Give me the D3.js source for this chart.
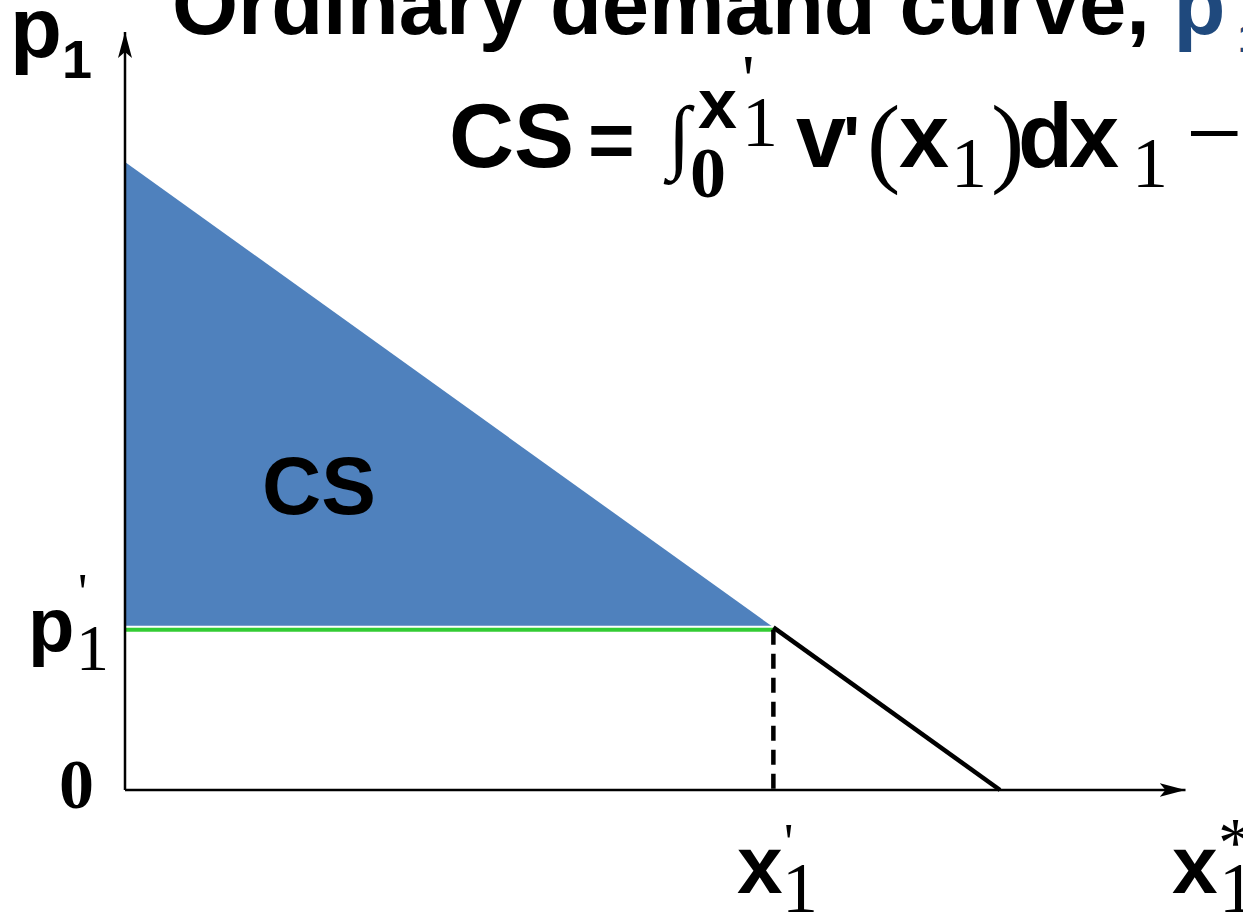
<!DOCTYPE html>
<html>
<head>
<meta charset="utf-8">
<script src="https://cdn.jsdelivr.net/npm/d3@7"></script>
<style>
  body { margin: 0; background: #fff; }
  svg { display: block; }
  .sans { font-family: "Liberation Sans", Arial, sans-serif; font-weight: bold; }
  .serif { font-family: "Liberation Serif", "Times New Roman", serif; }
</style>
</head>
<body>
<svg id="chart" width="1243" height="915"></svg>
<script>
// demand curve p1 = f(x1), in arbitrary units
const demandX = [0, 10];
const demandP = [10, 0];
const xPrime = 7.41;   // chosen quantity x1'
const pPrime = 2.55;   // price p1'
const axisMax = { x: 12.12, p: 12.07 };

const svg = d3.select("#chart"),
    width = +svg.attr("width"),
    height = +svg.attr("height");

const x = d3.scaleLinear().domain([0, 10]).range([125, 1000]);
const y = d3.scaleLinear().domain([0, 10]).range([790, 162]);

const demandAt = d3.scaleLinear().domain(demandX).range(demandP);

// arrow head
svg.append("defs").append("marker")
    .attr("id", "arrow")
    .attr("viewBox", "-26 -8 28 16")
    .attr("refX", 0).attr("refY", 0)
    .attr("markerUnits", "userSpaceOnUse")
    .attr("markerWidth", 28).attr("markerHeight", 16)
    .attr("orient", "auto")
    .append("path")
    .attr("d", "M0,0 L-26,-7 L-20,0 L-26,7 Z")
    .attr("fill", "#000");

// consumer surplus area
const csArea = [
    [0, demandAt(0)],
    [xPrime, demandAt(xPrime)],
    [0, demandAt(xPrime)]
];
svg.append("path")
    .datum(csArea)
    .attr("d", d3.line().x(d => x(d[0])).y(d => y(d[1])).curve(d3.curveLinearClosed))
    .attr("fill", "#4F81BD");

// price line p1'
svg.append("line")
    .attr("x1", x(0)).attr("x2", x(xPrime))
    .attr("y1", y(pPrime)).attr("y2", y(pPrime))
    .attr("stroke", "#fff").attr("stroke-width", 8);
svg.append("line")
    .attr("x1", x(0)).attr("x2", x(xPrime))
    .attr("y1", y(pPrime)).attr("y2", y(pPrime))
    .attr("stroke", "#33CC33").attr("stroke-width", 4);

// dashed drop to x1'
svg.append("line")
    .attr("x1", x(xPrime)).attr("x2", x(xPrime))
    .attr("y1", y(pPrime)).attr("y2", y(0))
    .attr("stroke", "#000").attr("stroke-width", 4.5)
    .attr("stroke-dasharray", "15,9");

// lower part of the demand curve
svg.append("path")
    .datum([xPrime, demandX[1]])
    .attr("d", d3.line().x(d => x(d)).y(d => y(Math.max(demandAt(d), 0))))
    .attr("fill", "none")
    .attr("stroke", "#000").attr("stroke-width", 4.5);

// axes
svg.append("line")
    .attr("x1", x(0)).attr("y1", y(0))
    .attr("x2", x(axisMax.x)).attr("y2", y(0))
    .attr("stroke", "#000").attr("stroke-width", 2.5)
    .attr("marker-end", "url(#arrow)");
svg.append("line")
    .attr("x1", x(0)).attr("y1", y(0))
    .attr("x2", x(0)).attr("y2", y(axisMax.p))
    .attr("stroke", "#000").attr("stroke-width", 2.5)
    .attr("marker-end", "url(#arrow)");

// text helper
function txt(str, px, py, size, cls, color) {
    return svg.append("text")
        .attr("class", cls)
        .attr("x", px).attr("y", py)
        .attr("font-size", size)
        .attr("fill", color || "#000")
        .text(str);
}

// title (runs off the slide)
const title = svg.append("text")
    .attr("class", "sans")
    .attr("x", 172).attr("y", 34)
    .attr("font-size", 85);
title.append("tspan").text("Ordinary demand curve, ");
title.append("tspan").attr("fill", "#1F497D").text("p");
txt("1", 1238, 52, 40, "sans", "#1F497D");

// formula
txt("CS", 449, 167, 90, "sans");
txt("=", 588, 167, 80, "sans");
txt("\u222B", 668, 163, 82, "serif");
txt("0", 690, 197, 72, "serif").attr("font-weight", "bold");
txt("x", 698, 128, 70, "sans");
txt("1", 742, 146, 72, "serif");
txt("'", 742, 103, 70, "serif");
txt("v", 796, 167, 90, "sans");
txt("'", 843, 167, 72, "sans");
txt("(", 867, 174, 100, "serif");
txt("x", 899, 167, 90, "sans");
txt("1", 951, 187, 72, "serif");
txt(")", 991, 174, 100, "serif");
txt("d", 1018, 167, 90, "sans");
txt("x", 1069, 167, 90, "sans");
txt("1", 1132, 187, 72, "serif");
txt("\u2212", 1186, 167, 100, "serif");

// axis labels
txt("p", 10, 57, 85, "sans");
txt("1", 62, 78, 54, "sans");

txt("p", 28, 651, 76, "sans");
txt("1", 76, 670, 66, "serif");
txt("'", 78, 610, 52, "serif");

txt("0", 59, 808, 70, "serif").attr("font-weight", "bold");

txt("x", 737, 893, 82, "sans");
txt("1", 782, 912, 72, "serif");
txt("'", 784, 860, 52, "serif");

txt("x", 1172, 893, 82, "sans");
txt("1", 1219, 912, 72, "serif");
txt("*", 1218, 866, 70, "serif");

// area label
txt("CS", 262, 514, 82, "sans");
</script>
</body>
</html>
